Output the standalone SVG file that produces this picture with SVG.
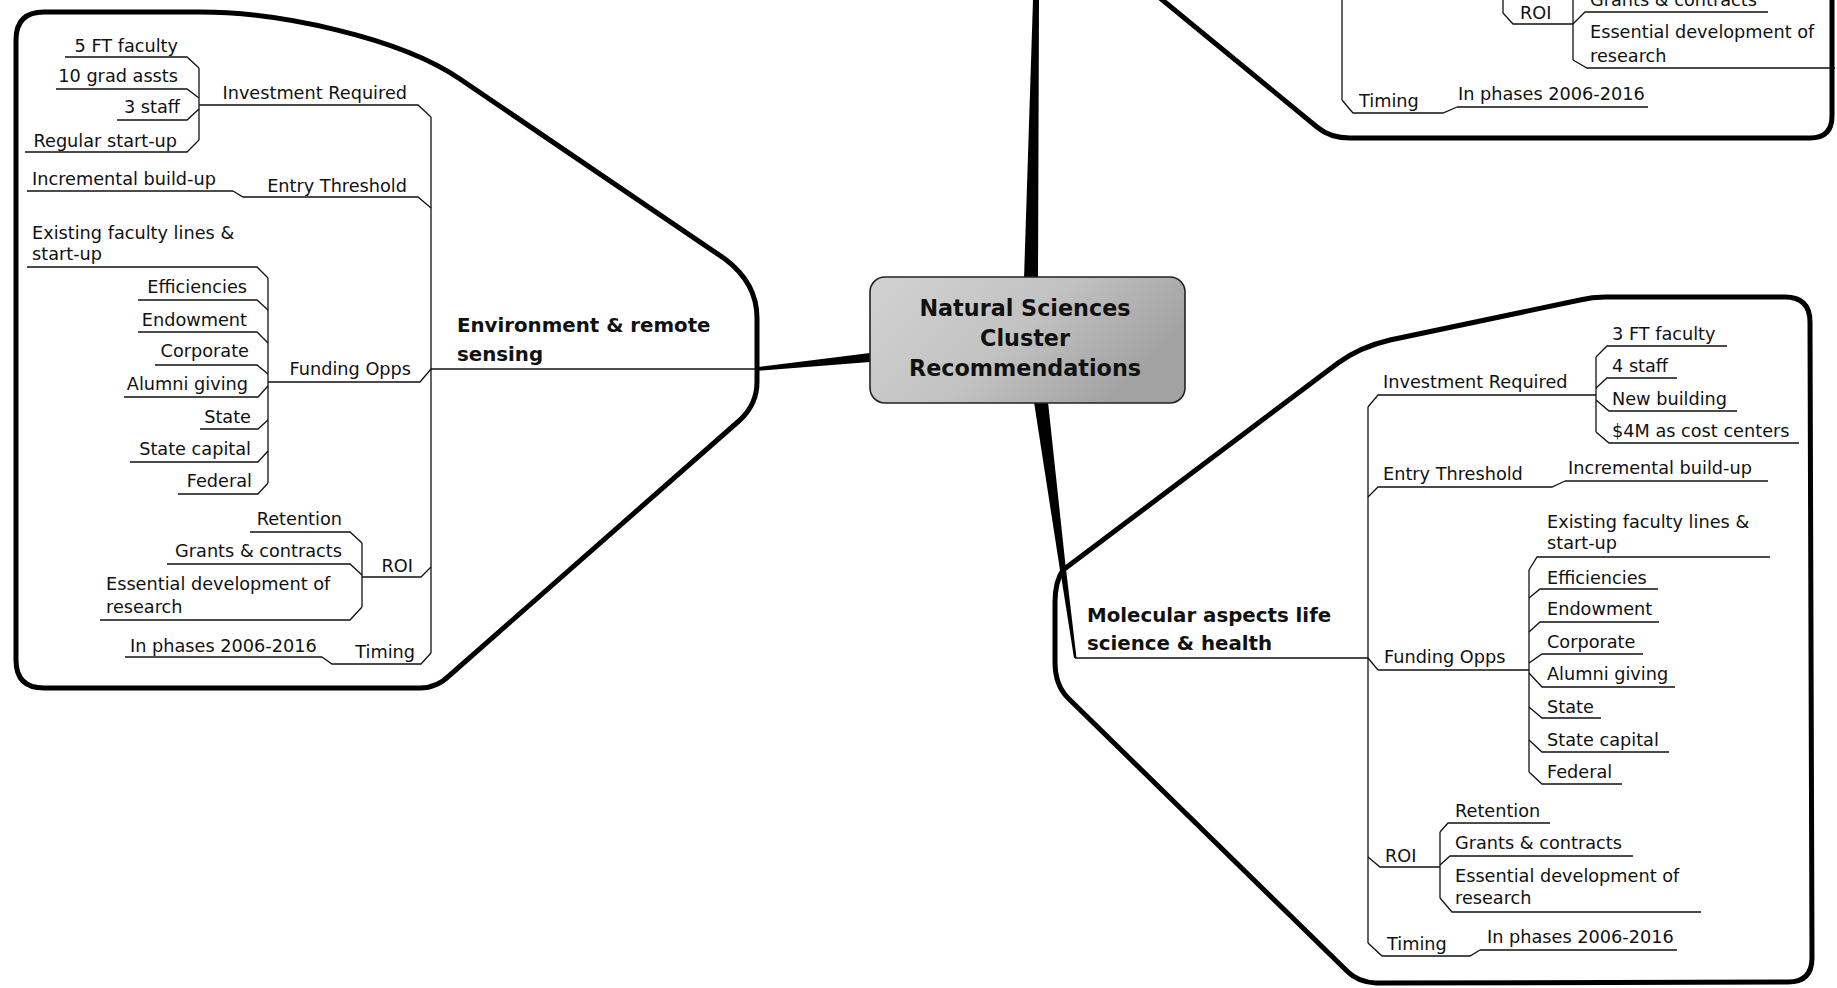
<svg xmlns="http://www.w3.org/2000/svg" width="1837" height="988" viewBox="0 0 1837 988">
<style>
text{font-family:"DejaVu Sans","Liberation Sans",sans-serif;fill:#111}
.t{font-size:17.7px}
.e{text-anchor:end}
.tp{font-size:19.8px;font-weight:bold}
.c{font-size:22.3px;font-weight:bold;text-anchor:middle}
.ln{fill:none;stroke:#111;stroke-width:1.3;stroke-linejoin:miter}
.bd{fill:none;stroke:#000;stroke-width:5;stroke-linejoin:round}
.wg{fill:#000}
</style>
<defs>
<linearGradient id="cg" x1="0" y1="0" x2="1" y2="0.4">
<stop offset="0" stop-color="#d2d2d2"/>
<stop offset="0.55" stop-color="#c2c2c2"/>
<stop offset="1" stop-color="#a2a2a2"/>
</linearGradient>
</defs>
<rect width="1837" height="988" fill="#fff"/>

<g id="connectors">
<polygon class="wg" points="755,367.5 755,371 870,362 870,353"/>
<polygon class="wg" points="1024,279 1038,279 1039,0 1033,0"/>
<polygon class="wg" points="1034,402 1048,402 1066,570 1060,570"/>
<polygon class="wg" points="1060,569 1066,569 1076.5,658 1074,658"/>
</g>

<g id="cluster-environment">
<path class="bd" d="M16,40 Q16,12 44,12 L200,12 C280,12 400,38 460,79 L725,259 Q757,283 757,318 L757,382 Q757,404 740,420 L450,675 Q437,688 420,688 L44,688 Q16,688 16,660 Z"/>
<g id="env-topic">
<text class="tp" x="457" y="332">Environment &amp; remote</text>
<text class="tp" x="457" y="361">sensing</text>
<path class="ln" d="M431,369 L757,369"/>
</g>
<path class="ln" d="M431,117 L431,653"/>
<g id="env-investment">
<text class="t e" x="407" y="99">Investment Required</text>
<path class="ln" d="M199,105 L418,105 L431,117"/>
<path class="ln" d="M199,68 L199,140"/>
<g id="env-inv-1"><text class="t e" x="178" y="52">5 FT faculty</text><path class="ln" d="M65,57 L187,57 L199,68"/></g>
<g id="env-inv-2"><text class="t e" x="178" y="82">10 grad assts</text><path class="ln" d="M56,89 L187,89 L199,98"/></g>
<g id="env-inv-3"><text class="t e" x="180" y="113">3 staff</text><path class="ln" d="M117,120 L187,120 L199,109"/></g>
<g id="env-inv-4"><text class="t e" x="177" y="147">Regular start-up</text><path class="ln" d="M25,152 L187,152 L199,140"/></g>
</g>
<g id="env-entry">
<text class="t e" x="407" y="192">Entry Threshold</text>
<path class="ln" d="M233,191 L243,197 L418,197 L431,208"/>
<g id="env-entry-1"><text class="t" x="32" y="185">Incremental build-up</text><path class="ln" d="M27,191 L233,191"/></g>
</g>
<g id="env-funding">
<text class="t e" x="411" y="375">Funding Opps</text>
<path class="ln" d="M268,382 L420,382 L431,369"/>
<path class="ln" d="M268,278 L268,483"/>
<g id="env-f-1"><text class="t" x="32" y="239">Existing faculty lines &amp;</text><text class="t" x="32" y="260">start-up</text><path class="ln" d="M27,267 L257,267 L268,278"/></g>
<g id="env-f-2"><text class="t e" x="247" y="293">Efficiencies</text><path class="ln" d="M138,300 L257,300 L268,310"/></g>
<g id="env-f-3"><text class="t e" x="247" y="326">Endowment</text><path class="ln" d="M138,332 L257,332 L268,343"/></g>
<g id="env-f-4"><text class="t e" x="249" y="357">Corporate</text><path class="ln" d="M155,365 L257,365 L268,374"/></g>
<g id="env-f-5"><text class="t e" x="248" y="390">Alumni giving</text><path class="ln" d="M124,397 L258,397 L268,386"/></g>
<g id="env-f-6"><text class="t e" x="251" y="423">State</text><path class="ln" d="M200,429 L258,429 L268,420"/></g>
<g id="env-f-7"><text class="t e" x="251" y="455">State capital</text><path class="ln" d="M130,462 L258,462 L268,451"/></g>
<g id="env-f-8"><text class="t e" x="252" y="487">Federal</text><path class="ln" d="M178,494 L258,494 L268,483"/></g>
</g>
<g id="env-roi">
<text class="t e" x="413" y="572">ROI</text>
<path class="ln" d="M362,577 L421,577 L431,567"/>
<path class="ln" d="M362,543 L362,607"/>
<g id="env-r-1"><text class="t e" x="342" y="525">Retention</text><path class="ln" d="M250,532 L350,532 L362,543"/></g>
<g id="env-r-2"><text class="t e" x="342" y="557">Grants &amp; contracts</text><path class="ln" d="M167,564 L350,564 L362,575"/></g>
<g id="env-r-3"><text class="t" x="106" y="590">Essential development of</text><text class="t" x="106" y="613">research</text><path class="ln" d="M100,620 L350,620 L362,607"/></g>
</g>
<g id="env-timing">
<text class="t e" x="415" y="658">Timing</text>
<path class="ln" d="M322,657 L332,664 L421,664 L431,653"/>
<g id="env-t-1"><text class="t" x="130" y="652">In phases 2006-2016</text><path class="ln" d="M125,657 L322,657"/></g>
</g>
</g>

<g id="central">
<rect x="870" y="277" width="315" height="126" rx="15" fill="url(#cg)" stroke="#222" stroke-width="1.6"/>
<text class="c" x="1025" y="316">Natural Sciences</text>
<text class="c" x="1025" y="346">Cluster</text>
<text class="c" x="1025" y="376">Recommendations</text>
</g>

<g id="cluster-molecular">
<path class="bd" d="M1063,570 L1338,363 Q1360,347 1390,340 L1580,300 Q1592,297 1605,297 L1785,297 Q1810,297 1810,322 L1812,958 Q1812,982 1788,982 L1376,983 Q1358,982 1348,972 L1068,698 Q1055,685 1055,662 L1055,602 Q1055,582 1063,570 Z"/>
<g id="mol-topic">
<text class="tp" x="1087" y="622">Molecular aspects life</text>
<text class="tp" x="1087" y="650">science &amp; health</text>
<path class="ln" d="M1075,658 L1368,658 L1378,670"/>
</g>
<path class="ln" d="M1368,407 L1368,943"/>
<g id="mol-investment">
<text class="t" x="1383" y="388">Investment Required</text>
<path class="ln" d="M1368,407 L1378,395 L1596,395"/>
<path class="ln" d="M1596,357 L1596,432"/>
<g id="mol-inv-1"><text class="t" x="1612" y="340">3 FT faculty</text><path class="ln" d="M1596,357 L1607,346 L1727,346"/></g>
<g id="mol-inv-2"><text class="t" x="1612" y="372">4 staff</text><path class="ln" d="M1596,388 L1607,378 L1677,378"/></g>
<g id="mol-inv-3"><text class="t" x="1612" y="405">New building</text><path class="ln" d="M1596,400 L1609,411 L1737,411"/></g>
<g id="mol-inv-4"><text class="t" x="1612" y="437">$4M as cost centers</text><path class="ln" d="M1596,432 L1609,443 L1799,443"/></g>
</g>
<g id="mol-entry">
<text class="t" x="1383" y="480">Entry Threshold</text>
<path class="ln" d="M1368,497 L1378,487 L1552,487 L1565,481"/>
<g id="mol-entry-1"><text class="t" x="1568" y="474">Incremental build-up</text><path class="ln" d="M1565,481 L1768,481"/></g>
</g>
<g id="mol-funding">
<text class="t" x="1384" y="663">Funding Opps</text>
<path class="ln" d="M1378,670 L1529,670"/>
<path class="ln" d="M1529,570 L1529,772"/>
<g id="mol-f-1"><text class="t" x="1547" y="528">Existing faculty lines &amp;</text><text class="t" x="1547" y="549">start-up</text><path class="ln" d="M1529,570 L1537,557 L1770,557"/></g>
<g id="mol-f-2"><text class="t" x="1547" y="584">Efficiencies</text><path class="ln" d="M1529,598 L1540,589 L1658,589"/></g>
<g id="mol-f-3"><text class="t" x="1547" y="615">Endowment</text><path class="ln" d="M1529,632 L1540,622 L1659,622"/></g>
<g id="mol-f-4"><text class="t" x="1547" y="648">Corporate</text><path class="ln" d="M1529,663 L1542,654 L1643,654"/></g>
<g id="mol-f-5"><text class="t" x="1547" y="680">Alumni giving</text><path class="ln" d="M1529,673 L1542,687 L1675,687"/></g>
<g id="mol-f-6"><text class="t" x="1547" y="713">State</text><path class="ln" d="M1529,707 L1542,718 L1601,718"/></g>
<g id="mol-f-7"><text class="t" x="1547" y="746">State capital</text><path class="ln" d="M1529,740 L1542,752 L1669,752"/></g>
<g id="mol-f-8"><text class="t" x="1547" y="778">Federal</text><path class="ln" d="M1529,772 L1542,784 L1622,784"/></g>
</g>
<g id="mol-roi">
<text class="t" x="1385" y="862">ROI</text>
<path class="ln" d="M1368,857 L1380,867 L1440,867"/>
<path class="ln" d="M1440,832 L1440,898"/>
<g id="mol-r-1"><text class="t" x="1455" y="817">Retention</text><path class="ln" d="M1440,832 L1448,823 L1550,823"/></g>
<g id="mol-r-2"><text class="t" x="1455" y="849">Grants &amp; contracts</text><path class="ln" d="M1440,865 L1450,856 L1633,856"/></g>
<g id="mol-r-3"><text class="t" x="1455" y="882">Essential development of</text><text class="t" x="1455" y="904">research</text><path class="ln" d="M1440,898 L1452,912 L1701,912"/></g>
</g>
<g id="mol-timing">
<text class="t" x="1387" y="950">Timing</text>
<path class="ln" d="M1368,943 L1382,956 L1470,956 L1480,950"/>
<g id="mol-t-1"><text class="t" x="1487" y="943">In phases 2006-2016</text><path class="ln" d="M1480,950 L1677,950"/></g>
</g>
</g>

<g id="cluster-top">
<path class="bd" d="M1160,-2 L1317,127 Q1330,138 1350,138 L1810,138 Q1832,138 1832,116 L1832,-2"/>
<path class="ln" d="M1342,0 L1342,100"/>
<g id="top-roi">
<text class="t" x="1520" y="19">ROI</text>
<path class="ln" d="M1503,0 L1503,13 L1513,24 L1573,24"/>
<path class="ln" d="M1573,0 L1573,60"/>
<g id="top-r-2"><text class="t" x="1590" y="6">Grants &amp; contracts</text><path class="ln" d="M1573,24 L1585,12 L1768,12"/></g>
<g id="top-r-3"><text class="t" x="1590" y="38">Essential development of</text><text class="t" x="1590" y="62">research</text><path class="ln" d="M1573,60 L1587,68 L1835,68"/></g>
</g>
<g id="top-timing">
<text class="t" x="1359" y="107">Timing</text>
<path class="ln" d="M1342,100 L1353,113 L1443,113 L1457,107"/>
<g id="top-t-1"><text class="t" x="1458" y="100">In phases 2006-2016</text><path class="ln" d="M1457,107 L1648,107"/></g>
</g>
</g>
</svg>
